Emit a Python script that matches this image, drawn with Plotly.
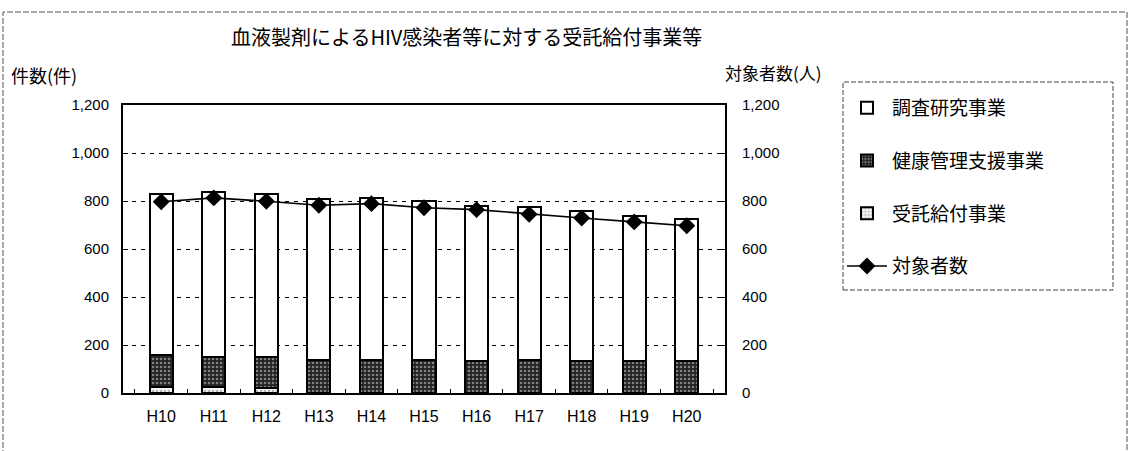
import plotly.graph_objects as go

# 年度
years = ["H10", "H11", "H12", "H13", "H14", "H15", "H16", "H17", "H18", "H19", "H20"]

# 件数(件) — 積み上げ棒
jutaku_kyufu = [25, 25, 20, 0, 0, 0, 0, 0, 0, 0, 0]            # 受託給付事業
kenko_kanri = [135, 127, 128, 139, 139, 136, 133, 136, 133, 133, 133]  # 健康管理支援事業
chosa_kenkyu = [670, 686, 683, 668, 674, 663, 646, 639, 624, 603, 591]  # 調査研究事業

# 対象者数(人) — 折れ線
taishosha = [797, 813, 799, 782, 789, 772, 764, 745, 729, 713, 697]

y_ticks = [0, 200, 400, 600, 800, 1000, 1200]

W, H = 1128, 451
L, R, T, B = 123, 725, 105, 393  # plot area in pixels


def px_x(x):
    return (x - L) / (R - L)


def px_y(y):
    return (B - y) / (B - T)


FONT = "Liberation Sans, Noto Sans CJK JP, sans-serif"
JP = "Noto Sans CJK JP, sans-serif"

fig = go.Figure()

fig.add_trace(go.Bar(
    x=years, y=jutaku_kyufu, name="受託給付事業",
    marker=dict(color="#f2f2f2", line=dict(color="black", width=2),
                pattern=dict(shape=".", fgcolor="#777777", bgcolor="#f4f4f4", size=4, solidity=0.3)),
    legendgroup="c", legendrank=3, width=0.44,
))
fig.add_trace(go.Bar(
    x=years, y=kenko_kanri, name="健康管理支援事業",
    marker=dict(color="#333333", line=dict(color="black", width=2),
                pattern=dict(shape=".", fgcolor="#dddddd", bgcolor="#222222", size=4, solidity=0.35)),
    legendgroup="b", legendrank=2, width=0.44,
))
fig.add_trace(go.Bar(
    x=years, y=chosa_kenkyu, name="調査研究事業",
    marker=dict(color="white", line=dict(color="black", width=2)),
    legendgroup="a", legendrank=1, width=0.44,
))
fig.add_trace(go.Scatter(
    x=years, y=taishosha, name="対象者数", yaxis="y2",
    mode="lines+markers",
    line=dict(color="black", width=1.6),
    marker=dict(symbol="diamond", size=13, color="black"),
    legendgroup="d", legendrank=4,
))

axis_common = dict(
    range=[0, 1200], tickvals=y_ticks, tickformat=",",
    tickfont=dict(family=FONT, size=15, color="black"),
    ticks="inside", ticklen=5, tickcolor="black",
    showline=True, linecolor="black", linewidth=2,
)

fig.update_layout(
    width=W, height=H,
    margin=dict(l=L, r=W - R, t=T, b=H - B, pad=0),
    paper_bgcolor="white", plot_bgcolor="white",
    barmode="stack", bargap=0.56,
    font=dict(family=FONT, color="black"),
    xaxis=dict(
        type="category", showline=True, linecolor="black", linewidth=2,
        mirror=True, ticks="inside", tickson="boundaries", ticklen=4,
        tickcolor="black", tickfont=dict(family=FONT, size=16, color="black"),
        ticklabelstandoff=8, showgrid=False,
    ),
    yaxis=dict(
        **axis_common, mirror=False, ticklabelstandoff=9,
        showgrid=True, gridcolor="black", gridwidth=1, griddash="4px,5px",
        zeroline=False,
    ),
    yaxis2=dict(
        **axis_common, overlaying="y", side="right", ticklabelstandoff=12,
        showgrid=False, zeroline=False,
    ),
    showlegend=True,
    legend=dict(
        x=px_x(842), y=px_y(89), xanchor="left", yanchor="top",
        traceorder="grouped", tracegroupgap=25,
        font=dict(family=JP, size=19, color="black"),
        bgcolor="rgba(0,0,0,0)", borderwidth=0, itemwidth=40,
    ),
)

# outer frame and legend frame
fig.add_shape(type="rect", xref="paper", yref="paper",
              x0=px_x(3), x1=px_x(1127), y0=px_y(470), y1=px_y(12),
              line=dict(color="#555555", width=1, dash="6px,2px"), layer="below")
fig.add_shape(type="rect", xref="paper", yref="paper",
              x0=px_x(843), x1=px_x(1113), y0=px_y(290), y1=px_y(82),
              line=dict(color="#444444", width=1, dash="5px,2px"), layer="below")

fig.add_annotation(text="血液製剤によるHIV感染者等に対する受託給付事業等",
                   xref="paper", yref="paper", x=px_x(466), y=px_y(37),
                   xanchor="center", yanchor="middle", showarrow=False,
                   font=dict(family=JP, size=20, color="black"))
fig.add_annotation(text="件数(件)", xref="paper", yref="paper",
                   x=px_x(9), y=px_y(75), xanchor="left", yanchor="middle",
                   showarrow=False, font=dict(family=JP, size=18, color="black"))
fig.add_annotation(text="対象者数(人)", xref="paper", yref="paper",
                   x=px_x(723), y=px_y(73), xanchor="left", yanchor="middle",
                   showarrow=False, font=dict(family=JP, size=17, color="black"))

fig.write_html("out.html")
